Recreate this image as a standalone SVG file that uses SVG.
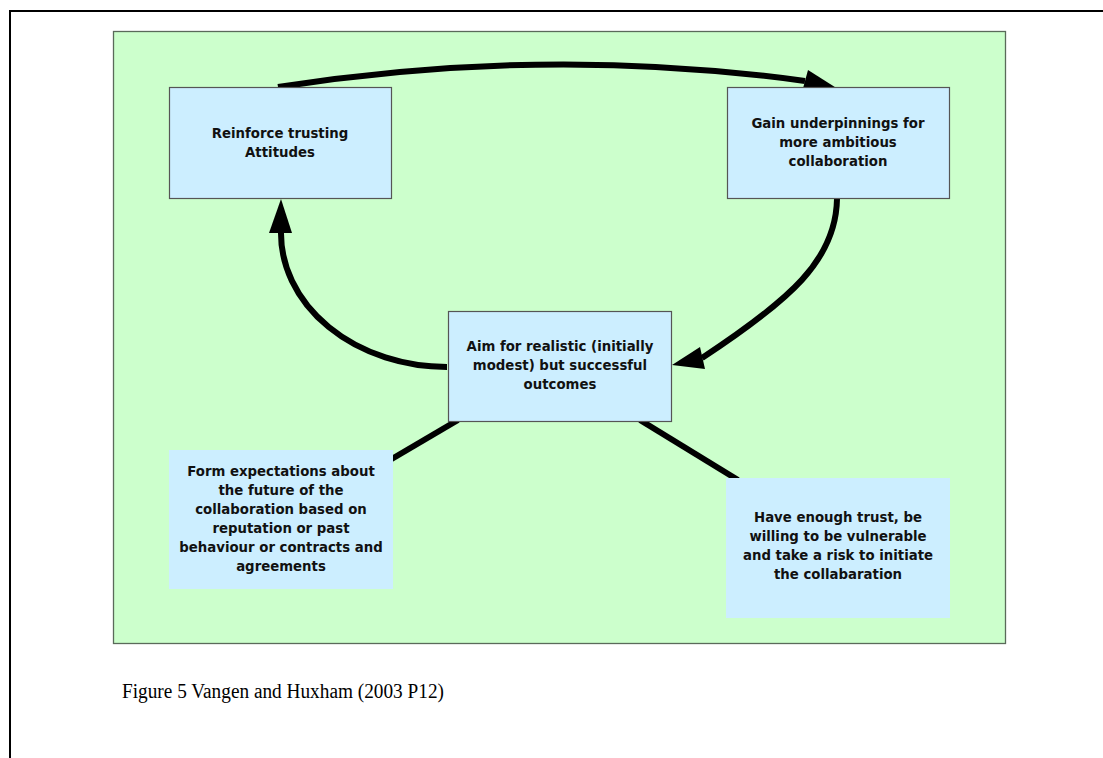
<svg xmlns="http://www.w3.org/2000/svg" width="1103" height="758" viewBox="0 0 1103 758">
<style>
.frame{stroke:#000;stroke-width:2;fill:none}
.panel{fill:#ccffcc;stroke:#5a6a5a;stroke-width:1.3}
.box{fill:#cceeff;stroke:#555;stroke-width:1.2}
.note{fill:#cceeff;stroke:none}
.conn{fill:none;stroke:#000;stroke-width:6}
.head{fill:#000;stroke:none}
.lbl{font-family:"DejaVu Sans",sans-serif;font-weight:bold;font-size:13.3px;fill:#111;text-anchor:middle}
.cap{font-family:"Liberation Serif","Times New Roman",serif;font-size:20px;fill:#000}
</style>
<rect width="1103" height="758" fill="#fff"/>
<g id="frame">
<path class="frame" d="M9,11 H1103 M10,11 V758"/>
</g>
<rect id="panel" class="panel" x="113.5" y="31.5" width="892" height="612"/>
<g id="connectors">
<path class="conn" d="M278,87 Q545,45 805,81"/>
<polygon class="head" points="808,70 838,89 802,92"/>
<path class="conn" d="M837,199 C836,260 790,300 702,358"/>
<polygon class="head" points="672,365 700,347 705,369"/>
<path class="conn" d="M447,367 A166,134 0 0 1 281,231"/>
<polygon class="head" points="281,199 269,233 292,233"/>
<path class="conn" d="M458,420 L390,460"/>
<path class="conn" d="M640,420 L738,480"/>
</g>
<g id="node-reinforce">
<rect class="box" x="169.5" y="87.5" width="222" height="111"/>
<text class="lbl" x="280" y="137.5">Reinforce trusting</text>
<text class="lbl" x="280" y="157">Attitudes</text>
</g>
<g id="node-gain">
<rect class="box" x="727.5" y="87.5" width="222" height="111"/>
<text class="lbl" x="838" y="128">Gain underpinnings for</text>
<text class="lbl" x="838" y="147">more ambitious</text>
<text class="lbl" x="838" y="166">collaboration</text>
</g>
<g id="node-aim">
<rect class="box" x="448.5" y="311.5" width="223" height="110"/>
<text class="lbl" x="560" y="351">Aim for realistic (initially</text>
<text class="lbl" x="560" y="370">modest) but successful</text>
<text class="lbl" x="560" y="389">outcomes</text>
</g>
<g id="node-form">
<rect class="note" x="169" y="450" width="224" height="139"/>
<text class="lbl" x="281" y="476">Form expectations about</text>
<text class="lbl" x="281" y="495">the future of the</text>
<text class="lbl" x="281" y="514">collaboration based on</text>
<text class="lbl" x="281" y="533">reputation or past</text>
<text class="lbl" x="281" y="552">behaviour or contracts and</text>
<text class="lbl" x="281" y="571">agreements</text>
</g>
<g id="node-trust">
<rect class="note" x="726" y="478" width="224" height="140"/>
<text class="lbl" x="838" y="522">Have enough trust, be</text>
<text class="lbl" x="838" y="541">willing to be vulnerable</text>
<text class="lbl" x="838" y="560">and take a risk to initiate</text>
<text class="lbl" x="838" y="579">the collabaration</text>
</g>
<text id="caption" class="cap" x="122" y="698" textLength="322" lengthAdjust="spacingAndGlyphs">Figure 5 Vangen and Huxham (2003 P12)</text>
</svg>
